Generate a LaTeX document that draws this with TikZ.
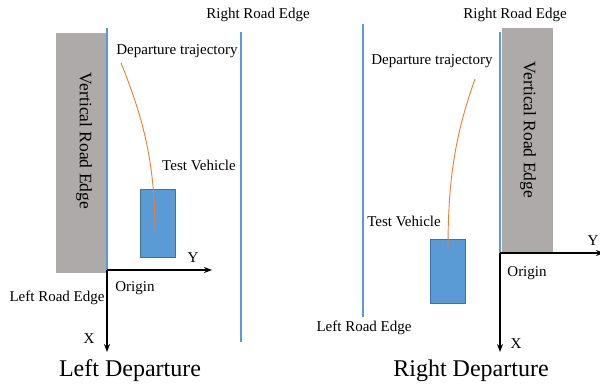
\documentclass[tikz,border=0pt]{standalone}
\usepackage{fontspec}
\setmainfont{Liberation Serif}
\usetikzlibrary{arrows.meta, positioning}

\definecolor{wallgray}{HTML}{AEAAAA}
\definecolor{carblue}{HTML}{5B9BD5}
\definecolor{cardark}{HTML}{41719C}
\definecolor{edgeblue}{HTML}{5B9BD5}
\definecolor{trajorange}{HTML}{ED7D31}

\begin{document}
\begin{tikzpicture}[
    x=1pt, y=-1pt,
    every node/.style={inner sep=1pt, font=\fontsize{15}{17}\selectfont},
    wall/.style={fill=wallgray, draw=none, minimum width=51pt, minimum height=240pt},
    walltext/.style={rotate=-90, font=\fontsize{17.5}{19}\selectfont},
    car/.style={fill=carblue, draw=cardark, thick, minimum width=35pt, minimum height=68pt},
    roadline/.style={edgeblue, line width=1.3pt},
    traj/.style={trajorange, line width=0.9pt},
    axis/.style={-{Stealth[length=8pt, width=6pt]}, line width=1.6pt},
    caption/.style={font=\fontsize{24}{26}\selectfont}
]
\useasboundingbox (0,0) rectangle (600,385);

% Left departure
\node (wallL) [wall] at (81.5,153) {};
\node (wallLtext) [walltext] at (84,141) {Vertical Road Edge};
\node (carL) [car] at (157.5,223) {};
\coordinate (origL) at (107,270);
\coordinate (trajLs) at (121,63);
\coordinate (trajLe) at (155,232);
\coordinate (leftLtop) at (107,28);
\coordinate (rightLtop) at (241,32);
\coordinate (rightLbot) at (241,342);
\coordinate (yL) at (212,270);
\coordinate (xL) at (107,352);

\node (rreL) at (258,15) {Right Road Edge};
\node (dtL) at (177,51) {Departure trajectory};
\node (tvL) at (199,165) {Test Vehicle};
\node (yLtext) at (193,258) {Y};
\node (origLtext) at (135,288) {Origin};
\node (lreL) at (57,298) {Left Road Edge};
\node (xLtext) at (89,339) {X};
\node (capL) [caption] at (130,371) {Left Departure};

% Right departure
\node (wallR) [wall, minimum height=224pt] at (527.5,140) {};
\node (wallRtext) [walltext] at (528,130) {Vertical Road Edge};
\node (carR) [car, minimum height=64pt] at (447.5,271) {};
\coordinate (origR) at (500,253);
\coordinate (trajRs) at (475,79);
\coordinate (trajRe) at (448,249);
\coordinate (leftRtop) at (363,24);
\coordinate (leftRbot) at (363,317);
\coordinate (rightRtop) at (500,32);
\coordinate (yR) at (604,253);
\coordinate (xR) at (500,352);

\node (rreR) at (515,15) {Right Road Edge};
\node (dtR) at (432,61) {Departure trajectory};
\node (tvR) at (404,221) {Test Vehicle};
\node (yRtext) at (593,241) {Y};
\node (origRtext) at (527,273) {Origin};
\node (lreR) at (364,328) {Left Road Edge};
\node (xRtext) at (516,344) {X};
\node (capR) [caption] at (471,371) {Right Departure};

% Road edges
\draw[roadline] (leftLtop) -- (origL);
\draw[roadline] (rightLtop) -- (rightLbot);
\draw[roadline] (leftRtop) -- (leftRbot);
\draw[roadline] (rightRtop) -- (origR);

% Trajectories
\draw[traj] (trajLs) .. controls (142,115) and (155,160) .. (trajLe);
\draw[traj] (trajRs) .. controls (455,135) and (448,180) .. (trajRe);

% Arrows
\draw[axis] (origL) -- (yL);
\draw[axis] (origL) -- (xL);
\draw[axis] (origR) -- (yR);
\draw[axis] (origR) -- (xR);

\end{tikzpicture}
\end{document}
